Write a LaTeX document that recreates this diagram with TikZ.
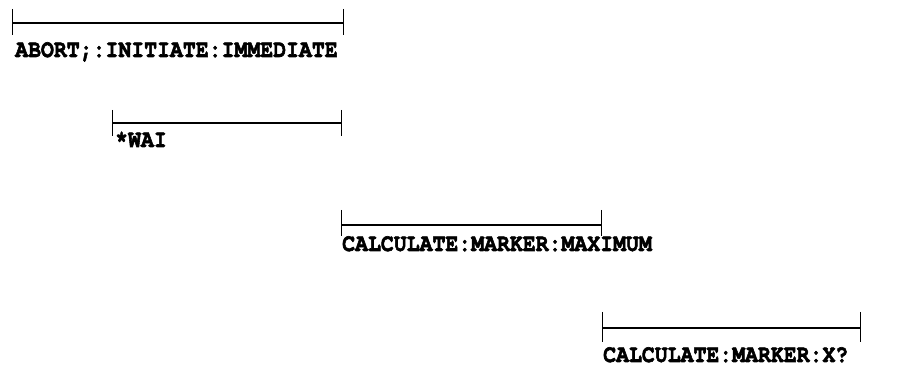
\documentclass[tikz,border=0pt]{standalone}
\usepackage{fontspec}
\setmonofont{TeX Gyre Cursor}[BoldFeatures={FakeBold=2.5}]
\begin{document}
\begin{tikzpicture}[x=1pt,y=-1pt,
  cmd/.style={anchor=base west,inner sep=0pt,yscale=1.15,transform shape,font=\ttfamily\bfseries\fontsize{21.5}{24}\selectfont},
  bar/.style={line width=1.3pt},
  tick/.style={line width=1pt}]
\useasboundingbox (0,0) rectangle (906,366);
% bar 1
\coordinate (a1) at (12,23); \coordinate (a2) at (343,23);
\draw[bar] (a1) -- (a2);
\draw[tick] ([yshift=14pt]a1) -- ([yshift=-12pt]a1);
\draw[tick] ([yshift=14pt]a2) -- ([yshift=-12pt]a2);
\node[cmd] (t1) at (15,57) {ABORT;:INITIATE:IMMEDIATE};
% bar 2
\coordinate (b1) at (112,123); \coordinate (b2) at (341,123);
\draw[bar] (b1) -- (b2);
\draw[tick] ([yshift=13pt]b1) -- ([yshift=-13pt]b1);
\draw[tick] ([yshift=13pt]b2) -- ([yshift=-13pt]b2);
\node[cmd] (t2) at (115,147) {*WAI};
% bar 3
\coordinate (c1) at (341,225); \coordinate (c2) at (601,225);
\draw[bar] (c1) -- (c2);
\draw[tick] ([yshift=15pt]c1) -- ([yshift=-11pt]c1);
\draw[tick] ([yshift=15pt]c2) -- ([yshift=-11pt]c2);
\node[cmd] (t3) at (342,251) {CALCULATE:MARKER:MAXIMUM};
% bar 4
\coordinate (d1) at (602,328); \coordinate (d2) at (860,328);
\draw[bar] (d1) -- (d2);
\draw[tick] ([yshift=16pt]d1) -- ([yshift=-14pt]d1);
\draw[tick] ([yshift=16pt]d2) -- ([yshift=-14pt]d2);
\node[cmd] (t4) at (603,362) {CALCULATE:MARKER:X?};
\end{tikzpicture}
\end{document}
